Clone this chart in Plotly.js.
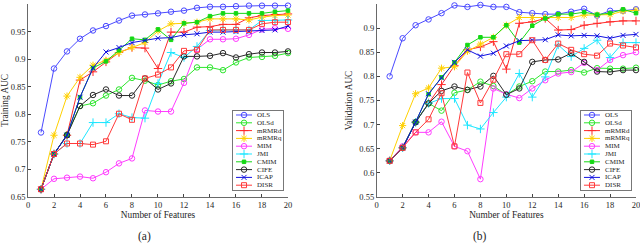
<!DOCTYPE html>
<html>
<head>
<meta charset="utf-8">
<script src="https://cdn.plot.ly/plotly-3.0.1.min.js"></script>
<style>html,body{margin:0;padding:0;background:#fff;}#chart{width:640px;height:243px;}</style>
</head>
<body>
<div id="chart"></div>
<script>
// ---------- data ----------
const features = [1,2,3,4,5,6,7,8,9,10,11,12,13,14,15,16,17,18,19,20];
const seriesNames = ['OLS','OLSd','mRMRd','mRMRq','MIM','JMI','CMIM','CIFE','ICAP','DISR'];
const xTicks = [0,2,4,6,8,10,12,14,16,18,20];
const yTicksTrain = [0.65,0.7,0.75,0.8,0.85,0.9,0.95,1];
const yTicksVal = [0.55,0.6,0.65,0.7,0.75,0.8,0.85,0.9,0.95];

// (a) Training AUC
const trainOLS   = [0.767,0.883,0.914,0.937,0.952,0.960,0.970,0.979,0.981,0.983,0.986,0.988,0.993,0.995,0.995,0.996,0.997,0.997,0.997,0.997];
const trainOLSd  = [0.664,0.728,0.763,0.815,0.820,0.834,0.845,0.866,0.861,0.853,0.860,0.864,0.885,0.885,0.880,0.894,0.903,0.904,0.906,0.911];
const trainMRMRd = [0.664,0.728,0.762,0.862,0.877,0.895,0.912,0.921,0.920,0.883,0.949,0.949,0.958,0.959,0.963,0.963,0.975,0.979,0.981,0.982];
const trainMRMRq = [0.664,0.762,0.833,0.867,0.889,0.898,0.912,0.921,0.930,0.951,0.964,0.965,0.967,0.973,0.973,0.973,0.971,0.976,0.979,0.980];
const trainMIM   = [0.664,0.683,0.685,0.687,0.684,0.695,0.711,0.720,0.807,0.805,0.805,0.857,0.918,0.936,0.936,0.937,0.944,0.954,0.956,0.955];
const trainJMI   = [0.664,0.728,0.747,0.747,0.785,0.785,0.801,0.794,0.793,0.856,0.912,0.903,0.923,0.952,0.953,0.953,0.953,0.970,0.970,0.971];
const trainCMIM  = [0.664,0.728,0.762,0.831,0.884,0.896,0.916,0.937,0.935,0.954,0.935,0.965,0.967,0.978,0.983,0.983,0.983,0.983,0.986,0.988];
const trainCIFE  = [0.664,0.728,0.762,0.815,0.835,0.845,0.834,0.834,0.865,0.845,0.856,0.905,0.905,0.906,0.911,0.903,0.909,0.912,0.912,0.914];
const trainICAP  = [0.664,0.728,0.762,0.831,0.884,0.913,0.921,0.930,0.934,0.938,0.939,0.944,0.946,0.949,0.949,0.950,0.950,0.952,0.953,0.960];
const trainDISR  = [0.664,0.728,0.747,0.747,0.745,0.751,0.801,0.790,0.865,0.872,0.885,0.915,0.917,0.953,0.953,0.953,0.953,0.964,0.967,0.967];

// (b) Validation AUC
const valOLS   = [0.800,0.879,0.906,0.918,0.931,0.947,0.944,0.948,0.944,0.944,0.933,0.931,0.929,0.929,0.934,0.940,0.926,0.936,0.936,0.939];
const valOLSd  = [0.625,0.652,0.705,0.744,0.729,0.766,0.772,0.789,0.780,0.762,0.779,0.790,0.810,0.810,0.813,0.808,0.817,0.816,0.816,0.818];
const valMRMRd = [0.625,0.652,0.705,0.745,0.783,0.822,0.855,0.861,0.872,0.815,0.910,0.913,0.920,0.896,0.897,0.906,0.910,0.913,0.915,0.915];
const valMRMRq = [0.625,0.698,0.764,0.776,0.817,0.820,0.852,0.867,0.881,0.906,0.922,0.922,0.922,0.922,0.922,0.927,0.927,0.928,0.935,0.937];
const valMIM   = [0.625,0.655,0.684,0.684,0.706,0.655,0.645,0.587,0.775,0.763,0.755,0.775,0.792,0.806,0.809,0.828,0.813,0.834,0.844,0.850];
const valJMI   = [0.625,0.652,0.705,0.744,0.754,0.754,0.699,0.691,0.725,0.757,0.806,0.757,0.799,0.865,0.841,0.858,0.875,0.839,0.870,0.870];
const valCMIM  = [0.625,0.652,0.705,0.763,0.798,0.829,0.865,0.881,0.881,0.906,0.870,0.905,0.920,0.929,0.929,0.933,0.928,0.931,0.939,0.931];
const valCIFE  = [0.625,0.652,0.705,0.744,0.770,0.779,0.772,0.779,0.801,0.762,0.775,0.830,0.834,0.835,0.848,0.830,0.810,0.809,0.813,0.813];
const valICAP  = [0.625,0.652,0.705,0.764,0.797,0.829,0.855,0.842,0.848,0.863,0.874,0.875,0.876,0.886,0.884,0.885,0.884,0.879,0.885,0.887];
const valDISR  = [0.625,0.652,0.684,0.711,0.765,0.655,0.808,0.745,0.793,0.846,0.846,0.875,0.834,0.868,0.855,0.846,0.843,0.868,0.864,0.860];

const trainSeries = [trainOLS,trainOLSd,trainMRMRd,trainMRMRq,trainMIM,trainJMI,trainCMIM,trainCIFE,trainICAP,trainDISR];
const valSeries   = [valOLS,valOLSd,valMRMRd,valMRMRq,valMIM,valJMI,valCMIM,valCIFE,valICAP,valDISR];

// ---------- styles ----------
const colors  = ['#4a4aff','#2ee62e','#ff2a2a','#ffd000','#ff3cff','#1ee6ff','#14d814','#2a2a2a','#1010e0','#ff3a3a'];
const symbols = ['circle-open','circle-open','cross-thin-open','asterisk-open','circle-open','cross-thin-open','square','circle-open','x-thin-open','square-open'];
const msizes  = [5.5,5.5,6,6,5.5,6,3.5,5.5,5,5];

const FONT = 'Liberation Serif, Times New Roman, serif';
const TXT = '#262626';

const traces = [];
function addSeries(list, xa, ya) {
  list.forEach((vals, i) => {
    traces.push({
      type: 'scatter', mode: 'lines+markers',
      x: features, y: vals, xaxis: xa, yaxis: ya,
      name: seriesNames[i], showlegend: false,
      line: {color: colors[i], width: 1},
      marker: {symbol: symbols[i], size: msizes[i], color: colors[i], line: {color: colors[i], width: 1}},
      cliponaxis: false
    });
  });
}
addSeries(trainSeries, 'x', 'y');
addSeries(valSeries, 'x2', 'y2');

// custom legends (MATLAB-style compact boxes)
const LEG_TOP = 4, LEG_STEP = 7.8;
const annotations = [];
function addLegend(xa, ya) {
  seriesNames.forEach((nm, i) => {
    const yy = LEG_TOP + LEG_STEP * i;
    traces.push({
      type: 'scatter', mode: 'lines+markers',
      x: [3, 11, 19], y: [yy, yy, yy], xaxis: xa, yaxis: ya, showlegend: false,
      line: {color: colors[i], width: 1},
      marker: {symbol: symbols[i], size: msizes[i], color: colors[i], opacity: [0, 1, 0], line: {color: colors[i], width: 1}},
      cliponaxis: false
    });
    annotations.push({
      xref: xa, yref: ya, x: 22, y: yy, xanchor: 'left', yanchor: 'middle',
      text: nm, showarrow: false, font: {family: FONT, size: 7, color: TXT}
    });
  });
}
addLegend('x3', 'y3');
addLegend('x4', 'y4');

// panel labels
annotations.push({xref: 'paper', yref: 'paper', x: 0.1924, y: -0.207, xanchor: 'center', yanchor: 'middle',
  text: '(a)', showarrow: false, font: {family: FONT, size: 11.5, color: TXT}});
annotations.push({xref: 'paper', yref: 'paper', x: 0.7439, y: -0.207, xanchor: 'center', yanchor: 'middle',
  text: '(b)', showarrow: false, font: {family: FONT, size: 11.5, color: TXT}});

const tickFont = {family: FONT, size: 8.5, color: TXT};
const titleFont = {family: FONT, size: 9.3, color: TXT};
function xAxis(domain, anchor) {
  return {domain: domain, anchor: anchor, range: [0, 20], tickvals: xTicks, ticks: 'inside', ticklen: 3,
    tickcolor: '#444', showline: true, linecolor: '#444', linewidth: 0.8, zeroline: false, showgrid: false,
    ticklabeloverflow: 'allow',
    tickfont: tickFont, title: {text: 'Number of Features', font: titleFont, standoff: 2}};
}
function yAxis(range, ticks, title, anchor) {
  return {domain: [0, 1], anchor: anchor, range: range, tickvals: ticks, ticks: 'inside', ticklen: 3,
    tickcolor: '#444', showline: true, linecolor: '#444', linewidth: 0.8, zeroline: false, showgrid: false,
    tickfont: tickFont, title: {text: title, font: titleFont, standoff: 4}};
}
function legAxis(domain, anchor, range) {
  return {domain: domain, anchor: anchor, range: range, showline: true, mirror: true, linecolor: '#555', linewidth: 0.8,
    showgrid: false, zeroline: false, showticklabels: false, ticks: '', fixedrange: true};
}

const layout = {
  width: 640, height: 243,
  margin: {l: 28, r: 4, t: 4, b: 46},
  paper_bgcolor: '#fff', plot_bgcolor: '#fff',
  showlegend: false,
  xaxis: xAxis([0, 0.4276], 'y'),
  yaxis: yAxis([0.65, 1], yTicksTrain, 'Training AUC', 'x'),
  xaxis2: xAxis([0.5735, 1], 'y2'),
  yaxis2: yAxis([0.55, 0.95], yTicksVal, 'Validation AUC', 'x2'),
  xaxis3: legAxis([0.3372, 0.4194], 'y3', [0, 50]),
  yaxis3: legAxis([0.0363, 0.4456], 'x3', [79, 0]),
  xaxis4: legAxis([0.9095, 0.9918], 'y4', [0, 50]),
  yaxis4: legAxis([0.0363, 0.4456], 'x4', [79, 0]),
  annotations: annotations
};

Plotly.newPlot('chart', traces, layout, {staticPlot: true, displayModeBar: false});
</script>
</body>
</html>
